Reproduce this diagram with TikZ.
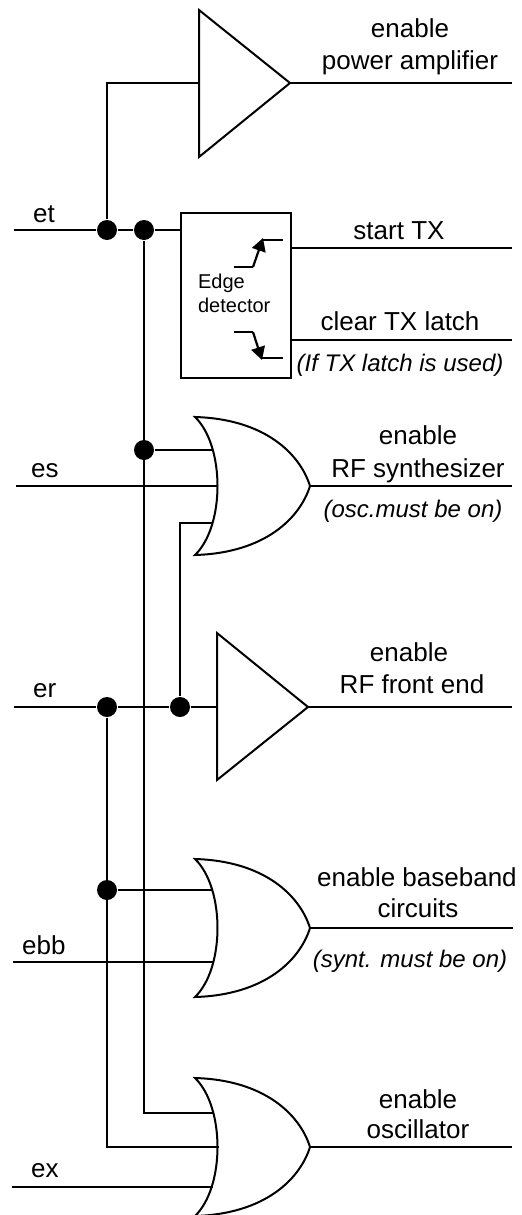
\documentclass[tikz,border=0pt]{standalone}
\usepackage{fontspec}
\setmainfont{Liberation Sans}
\usetikzlibrary{arrows.meta}
\begin{document}
\begin{tikzpicture}[x=0.5pt,y=-0.5pt,line width=1.1pt,
  dot/.style={circle,fill=black,inner sep=0pt,minimum size=10pt},
  lbl/.style={inner sep=0pt,anchor=base,font=\fontsize{13}{16}\selectfont},
  note/.style={inner sep=0pt,anchor=base,font=\fontsize{12}{14}\selectfont\itshape},
  small/.style={inner sep=0pt,anchor=base west,font=\fontsize{10}{12}\selectfont},
  inlbl/.style={inner sep=0pt,anchor=base west,font=\fontsize{13}{16}\selectfont},
  gate/.style={line width=1pt},
  edgeline/.style={line width=1.1pt},
  edgetip/.style={-{Triangle[length=6.5pt,width=7pt]}},
  orgate/.pic={\draw[gate] (0,-69) .. controls (70,-67) and (105,-32) .. (115,0)
      .. controls (105,32) and (70,67) .. (0,69)
      .. controls (30,40) and (30,-40) .. (0,-69) -- cycle;}]
\useasboundingbox (0,0) rectangle (521,1215);

% ---------- power amplifier ----------
\draw[gate] (199,10) -- (290,83) -- (199,157) -- cycle;
\coordinate (pain) at (199,83);
\coordinate (paout) at (290,83);
\coordinate (paend) at (512,83);
\draw (paout) -- (paend);
\node[lbl] (pa1) at (410,37) {enable};
\node[lbl] (pa2) at (410,69) {power amplifier};

% ---------- et ----------
\coordinate (et) at (14,230);
\node[dot] (d1) at (107,230) {};
\node[dot] (d2) at (144,230) {};
\node[draw,line width=1pt,inner sep=0pt,minimum width=55pt,minimum height=82.5pt,anchor=north west] (ed) at (180,212) {};
\coordinate (edin) at (180,230);
\draw (et) -- (d1) -- (d2) -- (edin);
\draw (d1) |- (pain);
\node[inlbl] (let) at (32,222) {et};

% edge detector contents
\node[small] (edg1) at (197,288) {Edge};
\node[small] (edg2) at (197,312) {detector};
\draw[edgeline] (234,267) -- (253,267);
\draw[edgeline,edgetip] (253,267) -- (263,238);
\draw[edgeline] (262,240) -- (283,240);
\draw[edgeline] (234,332) -- (253,332);
\draw[edgeline,edgetip] (253,332) -- (262,360);
\draw[edgeline] (261,358) -- (283,358);

% outputs of edge detector
\coordinate (stx0) at (290,248);
\coordinate (stx1) at (512,248);
\coordinate (ctx0) at (290,340);
\coordinate (ctx1) at (512,340);
\draw (stx0) -- (stx1);
\draw (ctx0) -- (ctx1);
\node[lbl] (lstx) at (399,239) {start TX};
\node[lbl] (lctx) at (400,330) {clear TX latch};
\node[note] (ntx) at (400,371) {(If TX latch is used)};

% ---------- RF synthesizer OR ----------
\pic (g1) at (195,486) {orgate};
\node[dot] (d3) at (144,450) {};
\coordinate (g1a) at (213,450);
\coordinate (es) at (16,486);
\coordinate (g1b) at (218,486);
\coordinate (g1c) at (213,523);
\coordinate (g1o) at (310,486);
\coordinate (g1e) at (512,486);
\draw (d3) -- (g1a);
\draw (es) -- (g1b);
\draw (g1o) -- (g1e);
\node[inlbl] (les) at (30,477) {es};
\node[lbl] (sy1) at (418,444) {enable};
\node[lbl] (sy2) at (418,477) {RF synthesizer};
\node[note] (nsy) at (413,517) {(osc.must be on)};

% ---------- RF front end ----------
\draw[gate] (217,633) -- (308,707) -- (217,780) -- cycle;
\coordinate (er) at (14,707);
\node[dot] (d5) at (107,707) {};
\node[dot] (d4) at (180,707) {};
\coordinate (rfin) at (217,707);
\coordinate (rfout) at (308,707);
\coordinate (rfend) at (512,707);
\draw (er) -- (d5) -- (d4) -- (rfin);
\draw (rfout) -- (rfend);
\draw (d4) |- (g1c);
\node[inlbl] (ler) at (32,697) {er};
\node[lbl] (rf1) at (409,661) {enable};
\node[lbl] (rf2) at (412,693) {RF front end};

% ---------- baseband OR ----------
\pic (g2) at (195,928) {orgate};
\node[dot] (d6) at (107,890) {};
\coordinate (g2a) at (213,890);
\coordinate (ebb) at (13,962);
\coordinate (g2b) at (214,962);
\coordinate (g2o) at (310,928);
\coordinate (g2e) at (513,928);
\draw (d6) -- (g2a);
\draw (ebb) -- (g2b);
\draw (g2o) -- (g2e);
\node[inlbl] (lebb) at (21,954) {ebb};
\node[lbl] (bb1) at (417,886) {enable baseband};
\node[lbl] (bb2) at (418,917) {circuits};
\node[note] (nbb) at (410,967) {(synt. must be on)};

% ---------- oscillator OR ----------
\pic (g3) at (195,1147) {orgate};
\coordinate (g3a) at (213,1113);
\coordinate (g3b) at (219,1147);
\coordinate (ex) at (12,1187);
\coordinate (g3c) at (213,1187);
\coordinate (g3o) at (310,1147);
\coordinate (g3e) at (512,1147);
\draw (d2) |- (g3a);
\draw (d5) |- (g3b);
\draw (ex) -- (g3c);
\draw (g3o) -- (g3e);
\node[inlbl] (lex) at (30,1177) {ex};
\node[lbl] (os1) at (418,1108) {enable};
\node[lbl] (os2) at (418,1138) {oscillator};
\end{tikzpicture}
\end{document}
